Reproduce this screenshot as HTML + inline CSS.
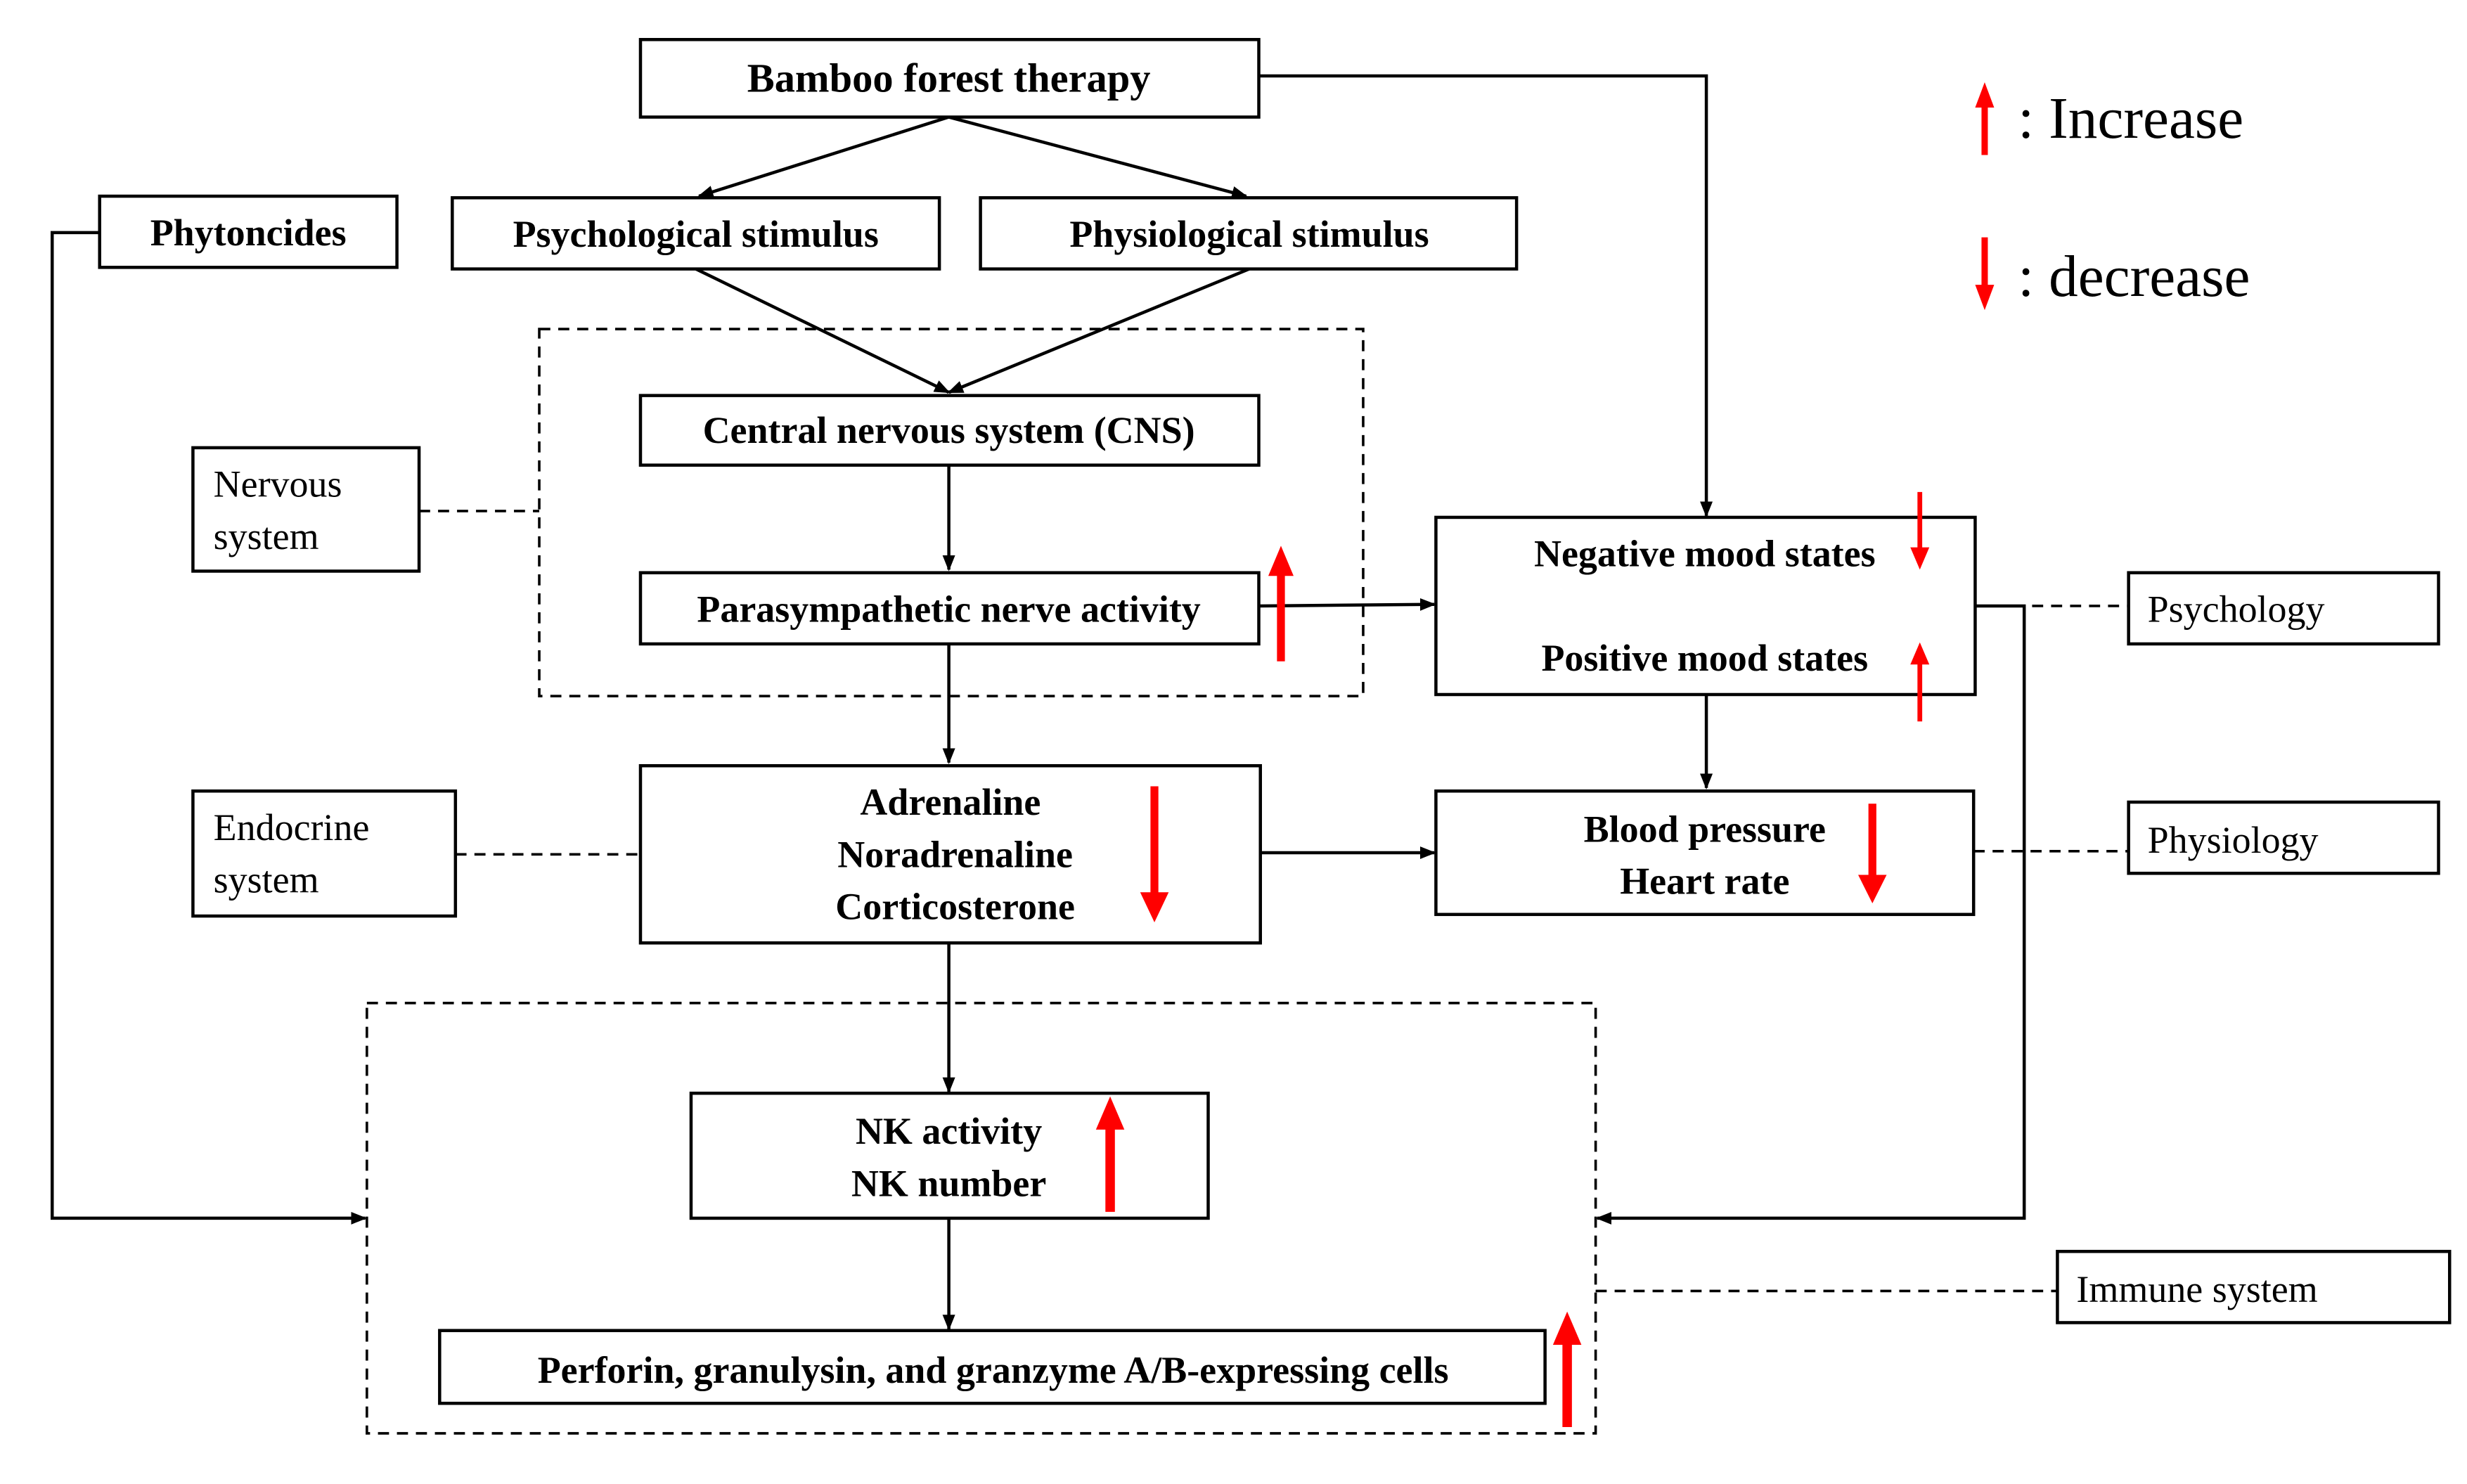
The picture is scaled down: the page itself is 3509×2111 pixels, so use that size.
<!DOCTYPE html>
<html><head><meta charset="utf-8"><style>
html,body{margin:0;padding:0;background:#fff;}
svg{display:block;}
text{font-family:"Liberation Serif",serif;}
.b{font-weight:bold;font-size:24px;text-anchor:middle;}
.n{font-size:24px;}
</style></head><body>
<svg width="3509" height="2111" viewBox="0 0 1560 938" preserveAspectRatio="none" xmlns="http://www.w3.org/2000/svg">
<defs>
<marker id="a" markerWidth="10" markerHeight="10" refX="9" refY="5" orient="auto" markerUnits="userSpaceOnUse"><path d="M0,1 L10,5 L0,9 z" fill="#000"/></marker>
</defs>
<g fill="none" stroke="#000" stroke-width="2">
<rect x="405" y="25" width="391" height="49"/>
<rect x="286" y="125" width="308" height="45"/>
<rect x="620" y="125" width="339" height="45"/>
<rect x="63" y="124" width="188" height="45"/>
<rect x="405" y="250" width="391" height="44"/>
<rect x="122" y="283" width="143" height="78"/>
<rect x="405" y="362" width="391" height="45"/>
<rect x="908" y="327" width="341" height="112"/>
<rect x="1346" y="362" width="196" height="45"/>
<rect x="405" y="484" width="392" height="112"/>
<rect x="122" y="500" width="166" height="79"/>
<rect x="908" y="500" width="340" height="78"/>
<rect x="1346" y="507" width="196" height="45"/>
<rect x="437" y="691" width="327" height="79"/>
<rect x="278" y="841" width="699" height="46"/>
<rect x="1301" y="791" width="248" height="45"/>
</g>
<g fill="none" stroke="#000" stroke-width="1.6" stroke-dasharray="7,5">
<rect x="341" y="208" width="521" height="232"/>
<rect x="232" y="634" width="777" height="272"/>
<path d="M265,323 H341 M1249,383 H1346 M288,540 H405 M1248,538 H1346 M1009,816 H1301"/>
</g>
<g fill="none" stroke="#000" stroke-width="2" marker-end="url(#a)">
<path d="M600,74 L442,124"/>
<path d="M600,74 L788,124"/>
<path d="M440,170 L600,248"/>
<path d="M790,170 L600,248"/>
<path d="M796,48 H1079 V326"/>
<path d="M600,294 V360"/>
<path d="M600,407 V482"/>
<path d="M796,383 L907,382"/>
<path d="M797,539 H907"/>
<path d="M1079,439 V498"/>
<path d="M600,596 V690"/>
<path d="M600,770 V840"/>
<path d="M63,147 H33 V770 H231"/>
<path d="M1249,383 H1280 V770 H1010"/>
</g>
<g fill="#f00" stroke="#f00">
<path d="M810,362 V418" stroke-width="5"/><path d="M802,364 L810,345 L818,364z" stroke="none"/>
<path d="M1214,311 V348" stroke-width="3"/><path d="M1208,346 L1214,360 L1220,346z" stroke="none"/>
<path d="M1214,418 V456" stroke-width="3"/><path d="M1208,420 L1214,406 L1220,420z" stroke="none"/>
<path d="M730,497 V566" stroke-width="5"/><path d="M721,564 L730,583 L739,564z" stroke="none"/>
<path d="M1184,508 V555" stroke-width="5"/><path d="M1175,553 L1184,571 L1193,553z" stroke="none"/>
<path d="M702,712 V766" stroke-width="6"/><path d="M693,714 L702,693 L711,714z" stroke="none"/>
<path d="M991,848 V902" stroke-width="6"/><path d="M982,850 L991,829 L1000,850z" stroke="none"/>
<path d="M1255,66 V98" stroke-width="4"/><path d="M1249,68 L1255,52 L1261,68z" stroke="none"/>
<path d="M1255,150 V182" stroke-width="4"/><path d="M1249,180 L1255,196 L1261,180z" stroke="none"/>
</g>
<g fill="#000">
<text class="b" x="600" y="58" style="font-size:26px">Bamboo forest therapy</text>
<text class="b" x="440" y="156">Psychological stimulus</text>
<text class="b" x="790" y="156">Physiological stimulus</text>
<text class="b" x="157" y="155">Phytoncides</text>
<text class="b" x="600" y="280">Central nervous system (CNS)</text>
<text class="b" x="600" y="393">Parasympathetic nerve activity</text>
<text class="b" x="1078" y="358">Negative mood states</text>
<text class="b" x="1078" y="424">Positive mood states</text>
<text class="b" x="601" y="515">Adrenaline</text>
<text class="b" x="604" y="548">Noradrenaline</text>
<text class="b" x="604" y="581">Corticosterone</text>
<text class="b" x="1078" y="532">Blood pressure</text>
<text class="b" x="1078" y="565">Heart rate</text>
<text class="b" x="600" y="723">NK activity</text>
<text class="b" x="600" y="756">NK number</text>
<text class="b" x="628" y="874">Perforin, granulysin, and granzyme A/B-expressing cells</text>
<text class="n" x="135" y="314">Nervous</text>
<text class="n" x="135" y="347">system</text>
<text class="n" x="135" y="531">Endocrine</text>
<text class="n" x="135" y="564">system</text>
<text class="n" x="1358" y="393">Psychology</text>
<text class="n" x="1358" y="539">Physiology</text>
<text class="n" x="1313" y="823">Immune system</text>
<text x="1276" y="87" style="font-size:37px">: Increase</text>
<text x="1276" y="187" style="font-size:37px">: decrease</text>
</g>
</svg>
</body></html>
